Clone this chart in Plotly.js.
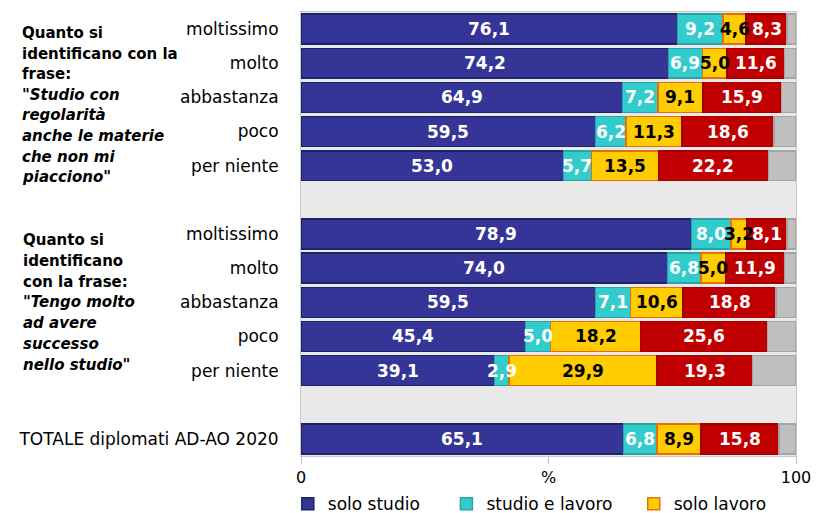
<!DOCTYPE html>
<html>
<head>
<meta charset="utf-8">
<script src="https://cdn.plot.ly/plotly-3.0.1.min.js"></script>
<style>
  html, body { margin: 0; padding: 0; background: #fff; }
  #chart { width: 827px; height: 513px; }
</style>
</head>
<body>
<div id="chart"></div>
<script>
// row positions (5 and 11 are empty spacer rows)
const rowPos = [0, 1, 2, 3, 4, 6, 7, 8, 9, 10, 12];
const rowLabels = ['moltissimo', 'molto', 'abbastanza', 'poco', 'per niente',
                   'moltissimo', 'molto', 'abbastanza', 'poco', 'per niente',
                   'TOTALE diplomati AD-AO 2020'];

const soloStudio     = [76.1, 74.2, 64.9, 59.5, 53.0, 78.9, 74.0, 59.5, 45.4, 39.1, 65.1];
const studioLavoro   = [9.2, 6.9, 7.2, 6.2, 5.7, 8.0, 6.8, 7.1, 5.0, 2.9, 6.8];
const soloLavoro     = [4.6, 5.0, 9.1, 11.3, 13.5, 3.2, 5.0, 10.6, 18.2, 29.9, 8.9];
const nessuno        = [8.3, 11.6, 15.9, 18.6, 22.2, 8.1, 11.9, 18.8, 25.6, 19.3, 15.8];
const nonRisponde    = [1.8, 2.3, 2.9, 4.4, 5.6, 1.8, 2.3, 4.0, 5.8, 8.8, 3.4];

const group1Lines = ['Quanto si', 'identificano con la', 'frase:', '"Studio con',
                     'regolarità', 'anche le materie', 'che non mi', 'piacciono"'];
const group2Lines = ['Quanto si', 'identificano', 'con la frase:', '"Tengo molto',
                     'ad avere', 'successo', 'nello studio"'];

const fmt = v => v.toFixed(1).replace('.', ',');
const nb = n => '\u00a0'.repeat(n);

const series = [
  { name: 'solo studio' + nb(4), vals: soloStudio, fill: '#353597', border: '#1c2468', txt: '#ffffff', label: true, legend: true },
  { name: 'studio e lavoro' + nb(3), vals: studioLavoro, fill: '#33cccc', border: '#2aa2a8', txt: '#ffffff', label: true, legend: true },
  { name: 'solo lavoro', vals: soloLavoro, fill: '#ffcc00', border: '#e3700a', txt: '#000000', label: true, legend: true },
  { name: 'né studio né lavoro', vals: nessuno, fill: '#c00000', border: '#a30000', txt: '#ffffff', label: true, legend: false },
  { name: 'mancate risposte', vals: nonRisponde, fill: '#bfbfbf', border: '#a5a5a5', txt: '#000000', label: false, legend: false }
];

const traces = series.map(s => ({
  type: 'bar',
  orientation: 'h',
  name: s.name,
  x: s.vals,
  y: rowPos,
  width: 0.875,
  marker: { color: s.fill, line: { color: s.border, width: 1.5 } },
  showlegend: s.legend,
  hoverinfo: 'x+name'
}));

// value labels as annotations so they sit above every bar segment
const annotations = [];
const cum = rowPos.map(() => 0);
series.forEach(s => {
  s.vals.forEach((v, i) => {
    if (s.label) {
      annotations.push({
        text: '<b>' + fmt(v) + '</b>', xref: 'x', yref: 'y',
        x: cum[i] + v / 2, y: rowPos[i], showarrow: false,
        xanchor: 'center', yanchor: 'middle',
        font: { family: 'DejaVu Sans', size: 17, color: s.txt }
      });
    }
    cum[i] += v;
  });
});

// left-hand group captions, one annotation per line
function addLines(lines, x0, y0, step, italicFrom) {
  lines.forEach((t, i) => {
    const txt = i >= italicFrom ? '<b><i>' + t + '</i></b>' : '<b>' + t + '</b>';
    annotations.push({
      text: txt, xref: 'paper', yref: 'paper', x: 0, y: 1,
      xanchor: 'left', yanchor: 'middle',
      xshift: x0 - 301, yshift: -(y0 + i * step - 12),
      showarrow: false, align: 'left',
      font: { family: 'DejaVu Sans', size: 15, color: '#000' }
    });
  });
}
addLines(group1Lines, 20, 33, 20.6, 3);
addLines(group2Lines, 21, 240, 20.8, 3);

const layout = {
  width: 827, height: 513,
  margin: { l: 301, r: 31, t: 12, b: 57 },
  paper_bgcolor: '#ffffff',
  plot_bgcolor: '#e9e9e9',
  barmode: 'stack',
  font: { family: 'DejaVu Sans', size: 17, color: '#000' },
  xaxis: {
    range: [0, 100],
    tickvals: [0, 50, 100],
    ticktext: ['0', '%', '100'],
    ticks: 'outside', ticklen: 7, tickcolor: '#c0c0c0',
    showgrid: false, zeroline: false,
    showline: true, linecolor: '#c8c8c8', mirror: true,
    tickfont: { size: 16 },
    fixedrange: true
  },
  yaxis: {
    range: [12.5, -0.5],
    tickvals: rowPos,
    ticktext: rowLabels,
    ticks: '', showgrid: false, zeroline: false,
    showline: true, linecolor: '#c8c8c8', mirror: true,
    ticklabelstandoff: 18,
    tickfont: { size: 17 },
    fixedrange: true
  },
  legend: {
    orientation: 'h', xref: 'container', yref: 'container',
    x: 0.348, xanchor: 'left', y: 0.017, yanchor: 'middle',
    font: { size: 17 }, traceorder: 'normal', itemwidth: 30
  },
  annotations: annotations,
  showlegend: true
};

Plotly.newPlot('chart', traces, layout, { displayModeBar: false, staticPlot: true });
</script>
</body>
</html>
